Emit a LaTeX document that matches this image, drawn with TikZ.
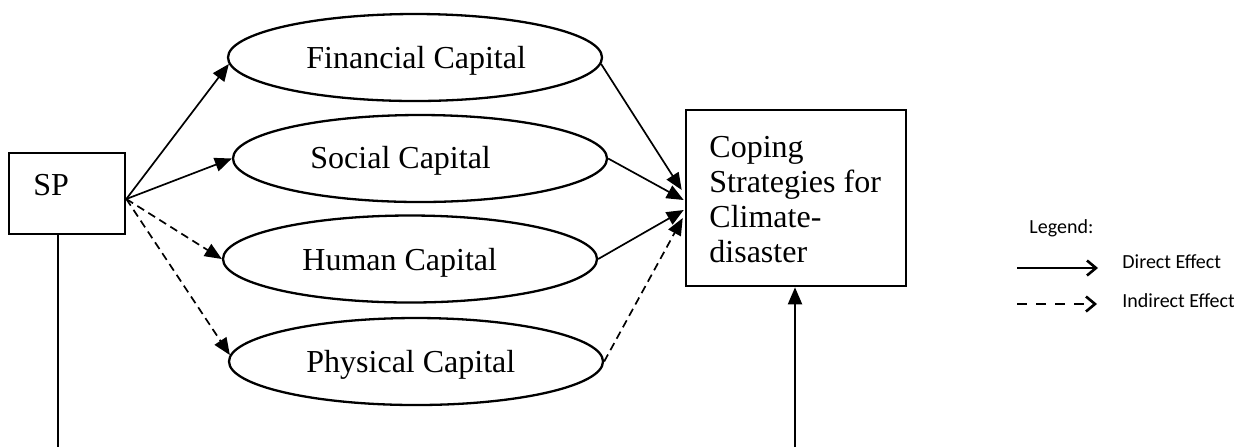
\documentclass[tikz,border=0pt]{standalone}
\usepackage{fontspec}
\setmainfont{Liberation Serif}
\newfontfamily\legfont{Carlito}
\usetikzlibrary{arrows.meta,shapes.geometric}
\begin{document}
\begin{tikzpicture}[x=0.5pt,y=-0.5pt,
  capital/.style={draw, line width=1.15pt, ellipse, minimum width=187pt, minimum height=43.5pt, inner sep=0pt},
  boxnode/.style={draw, line width=1.3pt, rectangle, inner sep=0pt},
  lbl/.style={font=\fontsize{16}{17.5}\selectfont, inner sep=0pt, anchor=base west},
  direct/.style={line width=0.85pt, -{Triangle[length=8.5pt,width=7pt]}},
  indirect/.style={direct, dash pattern=on 4pt off 2.5pt},
  plainline/.style={line width=1pt},
  legtxt/.style={font=\legfont\fontsize{10}{12}\selectfont, inner sep=0pt, anchor=base west},
  legdirect/.style={line width=1.3pt, -{Straight Barb[length=4.5pt,width=7.5pt,line width=1.3pt]}},
  legindirect/.style={legdirect, dash pattern=on 5pt off 4.5pt},
]
\useasboundingbox (0,0) rectangle (1234,447);

% SP box
\node[boxnode, minimum width=58pt, minimum height=40.5pt] (sp) at (67,193.5) {};
\node[lbl] (sptxt) at (33,195) {SP};

% capitals
\node[capital] (fin) at (415,57.5) {};
\node[lbl] (fintxt) at (306,68) {Financial Capital};
\node[capital] (soc) at (420,158.5) {};
\node[lbl] (soctxt) at (310,168) {Social Capital};
\node[capital] (hum) at (410,259) {};
\node[lbl] (humtxt) at (302,270) {Human Capital};
\node[capital] (phy) at (416,361.5) {};
\node[lbl] (phytxt) at (306,372) {Physical Capital};

% coping box
\node[boxnode, minimum width=110pt, minimum height=88pt] (cop) at (796,198) {};
\node[lbl] (c1) at (709,157) {Coping};
\node[lbl] (c2) at (709,192) {Strategies for};
\node[lbl] (c3) at (709,227) {Climate-};
\node[lbl] (c4) at (709,262) {disaster};

% connection points
\coordinate (spo) at ([yshift=-2.75pt]sp.east);
\coordinate (t1) at ([xshift=-1.5pt,yshift=4pt]cop.west);
\coordinate (t2) at ([xshift=-0.5pt,yshift=-1pt]cop.west);
\coordinate (t3) at ([xshift=-0.5pt,yshift=-6pt]cop.west);
\coordinate (t4) at ([xshift=-1pt,yshift=-10pt]cop.west);
\coordinate (spbot) at (58,447);
\coordinate (copbot) at (795,447);

% SP to capitals
\draw[direct] (spo) -- (fin.182);
\draw[direct] (spo) -- (soc.west);
\draw[indirect] (spo) -- (hum.west);
\draw[indirect] (spo) -- (phy.178);

% capitals to coping
\draw[direct] (fin.-2) -- (t1);
\draw[direct] (soc.east) -- (t2);
\draw[direct] (hum.east) -- (t3);
\draw[indirect] (phy.east) -- (t4);

% vertical lines
\draw[plainline] (spbot |- sp.south) -- (spbot);
\draw[plainline, -{Triangle[length=8.5pt,width=7pt]}] (copbot) -- (copbot |- cop.south);

% legend
\node[legtxt] (leg) at (1029,233) {Legend:};
\coordinate (l1a) at (1017,268);
\coordinate (l1b) at (1098,268);
\coordinate (l2a) at (1017,304);
\coordinate (l2b) at (1097,304);
\draw[legdirect] (l1a) -- (l1b);
\draw[legindirect] (l2a) -- (l2b);
\node[legtxt] (legd) at (1122,268) {Direct Effect};
\node[legtxt] (legi) at (1122,307) {Indirect Effect};
\end{tikzpicture}
\end{document}
